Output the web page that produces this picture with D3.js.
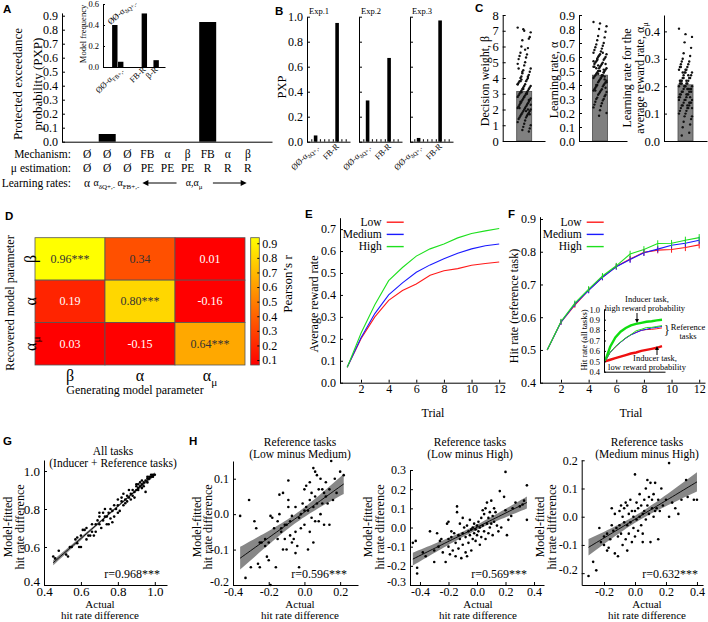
<!DOCTYPE html>
<html lang="en">
<head>
<meta charset="UTF-8">
<title>Model comparison and fits</title>
<script src="https://cdn.jsdelivr.net/npm/d3@7"></script>
<style>body { margin: 0; background: #fff; }</style>
</head>
<body>
<script>
// ---- data ----
var mechanism = ['Ø', 'Ø', 'Ø', 'FB', 'α', 'β', 'FB', 'α', 'β'];
var muEstimation = ['Ø', 'Ø', 'Ø', 'PE', 'PE', 'PE', 'R', 'R', 'R'];
var pxpAll = [0, 0.055, 0, 0, 0, 0, 0.855, 0, 0];
var modelFreq = [0, 0.40, 0.05, 0, 0, 0, 0.51, 0, 0.065];

var expNames = ['Exp.1', 'Exp.2', 'Exp.3'];
var pxpExp1 = [0, 0.05, 0, 0, 0, 0, 0.95, 0, 0];
var pxpExp2 = [0, 0.33, 0, 0, 0, 0, 0.67, 0, 0];
var pxpExp3 = [0, 0.03, 0, 0, 0, 0, 0.97, 0, 0];

var paramMeans = [3.15, 0.47, 0.205];
var betaFits = [7.2, 7.0, 6.9, 7.1, 6.6, 6.4, 6.5, 6.0, 5.9, 5.6, 5.5, 5.4, 5.3, 5.2, 5.0, 4.9, 4.8, 4.6, 4.5, 4.4,
  4.3, 4.2, 4.1, 4.0, 4.0, 3.9, 3.8, 3.8, 3.7, 3.6, 3.6, 3.5, 3.5, 3.4, 3.4, 3.3, 3.3, 3.2, 3.2, 3.1,
  3.1, 3.0, 3.0, 2.9, 2.9, 2.8, 2.8, 2.7, 2.7, 2.6, 2.6, 2.5, 2.5, 2.4, 2.4, 2.3, 2.3, 2.2, 2.2, 2.1,
  2.1, 2.0, 2.0, 1.9, 1.9, 1.8, 1.8, 1.7, 1.7, 1.6, 1.6, 1.5, 1.5, 1.4, 1.3, 1.2, 1.1, 1.0, 0.9, 0.8,
  0.7, 0.6, 3.9, 4.1, 2.5, 3.0, 2.1, 1.9, 4.6, 5.8, 3.6, 2.8, 2.3, 3.3, 1.7, 4.4, 2.6, 3.1, 2.0, 3.8];
var alphaFits = [0.85, 0.84, 0.82, 0.80, 0.78, 0.75, 0.74, 0.72, 0.70, 0.69, 0.68, 0.67, 0.66, 0.65, 0.64, 0.63,
  0.62, 0.62, 0.61, 0.60, 0.60, 0.59, 0.58, 0.58, 0.57, 0.56, 0.56, 0.55, 0.55, 0.54, 0.53, 0.53, 0.52,
  0.52, 0.51, 0.50, 0.50, 0.49, 0.49, 0.48, 0.47, 0.47, 0.46, 0.46, 0.45, 0.45, 0.44, 0.43, 0.43, 0.42,
  0.42, 0.41, 0.40, 0.40, 0.39, 0.39, 0.38, 0.37, 0.37, 0.36, 0.36, 0.35, 0.35, 0.34, 0.33, 0.33, 0.32,
  0.31, 0.30, 0.30, 0.29, 0.28, 0.27, 0.26, 0.25, 0.24, 0.22, 0.20, 0.18, 0.55, 0.48, 0.44, 0.58, 0.51,
  0.40, 0.63, 0.36, 0.47, 0.53, 0.45, 0.57, 0.50, 0.42, 0.61, 0.38, 0.54, 0.46, 0.59, 0.49, 0.52];
var alphaMuFits = [0.41, 0.39, 0.38, 0.36, 0.34, 0.32, 0.31, 0.30, 0.29, 0.29, 0.28, 0.28, 0.27, 0.27, 0.26,
  0.26, 0.25, 0.25, 0.25, 0.24, 0.24, 0.23, 0.23, 0.23, 0.22, 0.22, 0.22, 0.21, 0.21, 0.21, 0.20, 0.20,
  0.20, 0.20, 0.19, 0.19, 0.19, 0.18, 0.18, 0.18, 0.17, 0.17, 0.17, 0.16, 0.16, 0.16, 0.15, 0.15, 0.15,
  0.14, 0.14, 0.14, 0.13, 0.13, 0.13, 0.12, 0.12, 0.12, 0.11, 0.11, 0.10, 0.10, 0.09, 0.09, 0.08, 0.07,
  0.06, 0.05, 0.03, 0.02, 0.24, 0.21, 0.19, 0.17, 0.22, 0.15, 0.26, 0.12, 0.20, 0.18, 0.23, 0.16, 0.25,
  0.14, 0.21, 0.19, 0.27, 0.13, 0.22, 0.17];

var paramNames = ['β', 'α', 'αμ'];
var recoveryR = [[0.96, 0.34, 0.01], [0.19, 0.80, -0.16], [0.03, -0.15, 0.64]];
var recoveryStars = [['***', '', ''], ['', '***', ''], ['', '', '***']];
var colorbarTicks = [0.1, 0.2, 0.3, 0.4, 0.5, 0.6, 0.7, 0.8, 0.9];

var trials = [1, 2, 3, 4, 5, 6, 7, 8, 9, 10, 11, 12];
var rewardLow = [0.07, 0.20, 0.30, 0.375, 0.42, 0.45, 0.49, 0.51, 0.52, 0.535, 0.543, 0.55];
var rewardMed = [0.07, 0.205, 0.315, 0.40, 0.455, 0.503, 0.537, 0.565, 0.59, 0.61, 0.624, 0.632];
var rewardHigh = [0.07, 0.225, 0.355, 0.465, 0.525, 0.577, 0.61, 0.632, 0.66, 0.68, 0.692, 0.703];

var hitLow = [0.5, 0.585, 0.637, 0.683, 0.722, 0.755, 0.778, 0.798, 0.805, 0.807, 0.813, 0.821];
var hitMed = [0.5, 0.585, 0.64, 0.682, 0.722, 0.754, 0.776, 0.797, 0.808, 0.82, 0.826, 0.835];
var hitHigh = [0.5, 0.587, 0.643, 0.686, 0.726, 0.757, 0.793, 0.807, 0.825, 0.826, 0.835, 0.843];
var hitErr = [0, 0.008, 0.008, 0.009, 0.009, 0.009, 0.01, 0.01, 0.01, 0.01, 0.011, 0.011];
var inducerHigh = [0.5, 0.64, 0.73, 0.785, 0.82, 0.845, 0.86, 0.87, 0.88, 0.885, 0.893, 0.9];
var inducerLow = [0.5, 0.515, 0.53, 0.545, 0.56, 0.575, 0.585, 0.6, 0.61, 0.62, 0.63, 0.645];

var allTasks = [[0.45,0.55],[0.46,0.54],[0.48,0.58],[0.52,0.56],[0.53,0.55],[0.54,0.6],[0.55,0.6],[0.57,0.64],
  [0.58,0.62],[0.59,0.6],[0.6,0.6],[0.6,0.66],[0.61,0.69],[0.62,0.69],[0.63,0.7],[0.64,0.66],[0.65,0.66],
  [0.66,0.72],[0.66,0.68],[0.67,0.66],[0.68,0.72],[0.69,0.74],[0.7,0.72],[0.7,0.76],[0.71,0.7],[0.72,0.74],
  [0.72,0.78],[0.73,0.8],[0.74,0.76],[0.74,0.72],[0.75,0.78],[0.76,0.8],[0.76,0.75],[0.77,0.79],[0.78,0.82],
  [0.78,0.76],[0.79,0.8],[0.8,0.85],[0.8,0.82],[0.81,0.79],[0.82,0.86],[0.82,0.84],[0.83,0.88],[0.83,0.82],
  [0.84,0.85],[0.85,0.87],[0.85,0.84],[0.86,0.86],[0.86,0.9],[0.87,0.88],[0.88,0.87],[0.88,0.9],[0.89,0.89],
  [0.9,0.9],[0.9,0.92],[0.9,0.93],[0.91,0.91],[0.91,0.93],[0.92,0.92],[0.92,0.94],[0.93,0.93],[0.93,0.91],
  [0.94,0.94],[0.94,0.92],[0.95,0.95],[0.95,0.89],[0.96,0.96],[0.96,0.94],[0.97,0.96],[0.97,0.97],[0.98,0.97],
  [0.98,0.98],[0.99,0.98],[0.99,0.97],[1.0,0.98],[0.96,0.97],[0.93,0.95],[0.91,0.9],[0.89,0.86],[0.87,0.85],
  [0.84,0.83],[0.8,0.78],[0.77,0.73],[0.73,0.76],[0.68,0.68],[0.63,0.64],[0.58,0.65],[0.7,0.78],[0.75,0.72]];
var lowMinusMed = [[-0.36,-0.005],[-0.33,-0.18],[-0.31,0.04],[-0.3,-0.15],[-0.28,-0.02],[-0.27,-0.04],
  [-0.26,-0.14],[-0.25,-0.15],[-0.25,-0.08],[-0.24,-0.08],[-0.22,-0.07],[-0.21,-0.12],[-0.2,-0.13],[-0.2,-0.08],
  [-0.19,-0.2],[-0.19,-0.005],[-0.18,-0.01],[-0.17,-0.04],[-0.16,-0.15],[-0.15,-0.02],[-0.15,-0.07],[-0.14,0.055],
  [-0.14,0.0],[-0.13,-0.04],[-0.13,-0.05],[-0.12,0.06],[-0.11,-0.07],[-0.11,-0.03],[-0.1,-0.03],[-0.1,-0.1],
  [-0.09,0.095],[-0.09,0.04],[-0.09,0.02],[-0.08,-0.02],[-0.08,-0.06],[-0.07,-0.005],[-0.07,-0.08],[-0.06,-0.07],
  [-0.05,-0.05],[-0.05,0.02],[-0.04,-0.09],[-0.03,-0.01],[-0.03,-0.15],[-0.02,-0.04],[-0.02,0.0],[-0.01,0.03],
  [0.0,0.07],[0.0,-0.03],[0.01,0.08],[0.01,0.02],[0.02,-0.1],[0.02,0.01],[0.03,0.04],[0.03,-0.05],[0.04,0.06],
  [0.04,-0.01],[0.05,0.13],[0.05,0.02],[0.05,-0.08],[0.06,0.05],[0.06,-0.02],[0.07,0.11],[0.07,0.03],[0.08,0.07],
  [0.08,-0.02],[0.09,0.0],[0.09,0.1],[0.1,0.07],[0.1,0.03],[0.11,0.06],[0.11,-0.03],[0.12,0.05],[0.12,0.09],
  [0.13,0.03],[0.14,0.07],[0.14,-0.03],[0.15,0.15],[0.16,0.04],[0.17,0.1],[0.18,0.06],[0.2,0.12],[0.22,0.11],
  [-0.05,-0.11],[0.03,0.09],[-0.12,-0.1],[0.06,0.12],[-0.22,-0.09],[0.0,0.01]];
var lowMinusHigh = [[-0.45,-0.08],[-0.43,-0.07],[-0.42,-0.21],[-0.42,-0.24],[-0.38,-0.13],[-0.36,-0.15],
  [-0.33,-0.02],[-0.3,-0.12],[-0.3,-0.18],[-0.28,-0.03],[-0.27,-0.1],[-0.25,-0.06],[-0.24,-0.13],[-0.22,-0.18],
  [-0.21,0.02],[-0.2,0.03],[-0.2,-0.06],[-0.2,-0.1],[-0.19,-0.14],[-0.18,-0.02],[-0.18,-0.05],[-0.17,-0.12],
  [-0.16,-0.03],[-0.15,-0.08],[-0.15,-0.15],[-0.14,0.11],[-0.14,0.08],[-0.13,-0.04],[-0.13,-0.11],[-0.12,0.02],
  [-0.12,-0.06],[-0.11,-0.16],[-0.1,-0.03],[-0.1,-0.09],[-0.1,0.05],[-0.09,0.0],[-0.08,-0.05],[-0.08,-0.13],
  [-0.07,0.01],[-0.06,-0.02],[-0.06,-0.08],[-0.05,0.04],[-0.05,-0.04],[-0.04,-0.01],[-0.04,-0.12],[-0.03,0.0],
  [-0.03,-0.06],[-0.02,0.02],[-0.02,-0.03],[-0.01,-0.01],[-0.01,-0.07],[0.0,0.01],[0.0,-0.04],[0.01,0.03],
  [0.01,-0.02],[0.02,0.0],[0.02,-0.09],[0.03,0.05],[0.03,-0.05],[0.04,0.01],[0.05,0.07],[0.05,-0.02],[0.06,0.1],
  [0.06,-0.06],[0.07,0.02],[0.07,0.13],[0.08,0.05],[0.08,-0.03],[0.09,0.0],[0.09,0.08],[0.1,0.02],[0.1,0.14],
  [0.11,0.06],[0.11,-0.04],[0.12,0.03],[0.13,0.08],[0.14,0.01],[0.15,-0.02],[0.16,0.19],[0.17,0.0],[0.19,0.16],
  [0.2,0.29],[0.2,0.09],[0.21,-0.04],[0.22,0.04],[0.24,0.06],[0.25,0.1],[0.27,0.13],[0.3,0.11],[0.33,0.14],
  [0.35,0.22],[0.35,0.04],[0.32,0.12],[-0.26,-0.07],[0.04,0.09],[-0.07,-0.15],[0.12,0.1]];
var medMinusHigh = [[-0.3,-0.21],[-0.27,-0.16],[-0.25,-0.19],[-0.23,-0.04],[-0.22,-0.09],[-0.2,-0.1],[-0.2,-0.07],
  [-0.18,-0.06],[-0.17,-0.11],[-0.16,-0.08],[-0.15,0.03],[-0.15,-0.03],[-0.14,-0.05],[-0.13,0.01],[-0.13,-0.13],
  [-0.12,-0.04],[-0.11,-0.14],[-0.11,-0.07],[-0.1,0.02],[-0.1,-0.03],[-0.09,-0.06],[-0.08,0.0],[-0.08,-0.1],
  [-0.07,-0.02],[-0.07,0.03],[-0.06,-0.08],[-0.05,0.04],[-0.05,-0.03],[-0.05,-0.12],[-0.04,0.01],[-0.04,-0.06],
  [-0.03,0.06],[-0.03,-0.02],[-0.02,-0.09],[-0.02,0.02],[-0.01,-0.04],[-0.01,0.0],[0.0,0.15],[0.0,0.02],
  [0.0,-0.07],[0.01,-0.01],[0.01,0.05],[0.02,0.03],[0.02,-0.05],[0.03,0.0],[0.03,0.08],[0.04,-0.03],[0.04,0.04],
  [0.05,0.01],[0.05,-0.09],[0.06,0.06],[0.06,0.02],[0.07,-0.01],[0.07,0.1],[0.08,0.04],[0.08,0.13],[0.09,0.01],
  [0.09,0.07],[0.1,0.12],[0.1,-0.09],[0.11,0.03],[0.11,0.06],[0.12,0.0],[0.12,0.08],[0.13,0.12],[0.14,0.03],
  [0.15,-0.08],[0.15,0.06],[0.16,0.02],[0.17,0.1],[0.18,0.04],[0.2,0.06],[0.22,0.19],[0.22,0.0],[0.24,0.05],
  [0.26,0.03],[0.28,0.01],[0.3,0.06],[0.33,0.13],[0.34,0.07],[0.38,0.06],[0.4,0.06],[-0.06,0.05],[0.05,-0.06],
  [-0.18,-0.12],[0.13,0.02],[-0.09,0.04]];
var corrLabels = ['r=0.968***', 'r=0.596***', 'r=0.569***', 'r=0.632***'];

// ---- font: pick an installed Times-like serif, shrink sizes if it runs wider than Times ----
var ctx = document.createElement('canvas').getContext('2d');
function installed(name) {
  var s = 'Protected exceedance 0.123';
  ctx.font = '40px monospace';
  var w0 = ctx.measureText(s).width;
  ctx.font = '40px "' + name + '", monospace';
  return ctx.measureText(s).width !== w0;
}
var serifName = ['Liberation Serif', 'Times New Roman', 'Tinos', 'Nimbus Roman', 'Noto Serif', 'DejaVu Serif']
  .filter(installed)[0];
var SERIF = serifName ? '"' + serifName + '", serif' : 'serif';
ctx.font = '100px ' + SERIF;
var FS = Math.min(1, 863.5 / ctx.measureText('Protected exceedance').width);
d3.select('head').append('style').text(
  'svg text { font-family: ' + SERIF + '; }' +
  'svg text.letter { font-family: "Liberation Sans", Arial, sans-serif; font-weight: bold; }');

// ---- setup ----
var svg = d3.select('body').append('svg').attr('width', 708).attr('height', 622);
svg.append('rect').attr('width', 708).attr('height', 622).attr('fill', '#fff');

function styleAxis(g, size) {
  g.attr('font-size', size * FS);
  g.select('.domain').attr('stroke', '#000');
  g.selectAll('.tick line').attr('stroke', '#000');
  g.selectAll('.tick text').attr('fill', '#000');
  return g;
}
function leftAxis(scale, x, ticks, fmt, size) {
  var g = svg.append('g').attr('transform', 'translate(' + x + ',0)')
    .call(d3.axisLeft(scale).tickValues(ticks).tickFormat(fmt).tickSizeInner(-3).tickSizeOuter(0).tickPadding(4));
  return styleAxis(g, size);
}
function bottomAxis(scale, y, ticks, fmt, size) {
  var g = svg.append('g').attr('transform', 'translate(0,' + y + ')')
    .call(d3.axisBottom(scale).tickValues(ticks).tickFormat(fmt).tickSizeInner(-3).tickSizeOuter(0).tickPadding(2));
  return styleAxis(g, size);
}
function fix1(d) { return d.toFixed(1); }
function txt(x, y, s, size, anchor) {
  return svg.append('text').attr('x', x).attr('y', y).attr('font-size', size * FS)
    .attr('text-anchor', anchor || 'middle').text(s);
}
function vtxt(x, y, s, size) {
  return svg.append('text').attr('transform', 'translate(' + x + ',' + y + ') rotate(-90)')
    .attr('font-size', size * FS).attr('text-anchor', 'middle').attr('dy', '0.35em').text(s);
}
function rotText(x, y, angle, size, anchor) {
  return svg.append('text').attr('transform', 'translate(' + x + ',' + y + ') rotate(' + angle + ')')
    .attr('font-size', size * FS).attr('text-anchor', anchor || 'middle');
}
function rich(t, parts, size) {
  var s = size * FS, shift = 0;
  parts.forEach(function(p) {
    var ts = t.append('tspan').text(p[0]);
    if (p[1]) {
      ts.attr('font-size', s * 0.7).attr('dy', s * 0.3 - shift);
      shift = s * 0.3;
    } else {
      ts.attr('font-size', s);
      if (shift) ts.attr('dy', -shift);
      shift = 0;
    }
  });
  return t;
}
function letter(x, y, s) {
  svg.append('text').attr('class', 'letter').attr('x', x).attr('y', y).attr('font-size', 11.5).text(s);
}

// ---- A ----
letter(3, 13, 'A');
var xA = d3.scaleLinear().domain([-0.25, 10.2]).range([62, 272]);
var yA = d3.scaleLinear().domain([0, 0.92]).range([141.7, 12.9]);
svg.selectAll('.barA').data(pxpAll).enter().append('rect')
  .attr('x', function(d, i) { return xA(i + 1) - 8.5; })
  .attr('y', function(d) { return yA(d); })
  .attr('width', 17).attr('height', function(d) { return yA(0) - yA(d); })
  .attr('fill', '#000');
leftAxis(yA, xA(-0.25), d3.range(0, 10).map(function(i) { return i / 10; }), fix1, 12);
bottomAxis(xA, yA(0), [], '', 12);
vtxt(17, 84, 'Protected exceedance', 13);
vtxt(37, 84, 'probability (PXP)', 13);

txt(71, 158, 'Mechanism:', 11.5, 'end');
txt(71, 172, 'μ estimation:', 11.5, 'end');
txt(71, 187, 'Learning rates:', 11.5, 'end');
mechanism.forEach(function(m, i) { txt(xA(i + 1), 158, m, 11.5); });
muEstimation.forEach(function(m, i) { txt(xA(i + 1), 172, m, 11.5); });
txt(xA(1), 187, 'α', 11.5);
rich(txt(xA(1.85), 186, '', 10), [['α', 0], ['δQ+,-', 1]], 10);
rich(txt(xA(3.05), 186, '', 10), [['α', 0], ['FB+,-', 1]], 10);
rich(txt(xA(6.32), 186, '', 10), [['α,α', 0], ['μ', 1]], 10);
[[xA(5.45), xA(3.75)], [xA(7.26), xA(8.94)]].forEach(function(a) {
  var dir = a[1] > a[0] ? 1 : -1;
  svg.append('line').attr('x1', a[0]).attr('x2', a[1] - dir * 4).attr('y1', 183).attr('y2', 183)
    .attr('stroke', '#000').attr('stroke-width', 1);
  svg.append('path').attr('d', 'M' + a[1] + ',183 l' + (-dir * 6) + ',-3 v6 z').attr('fill', '#000');
});

// A inset
var xI = d3.scaleLinear().domain([0, 10.5]).range([103, 165]);
var yI = d3.scaleLinear().domain([0, 0.6]).range([67, 4]);
svg.selectAll('.barI').data(modelFreq).enter().append('rect')
  .attr('x', function(d, i) { return xI(i + 1) - 2.7; })
  .attr('y', function(d) { return yI(d); })
  .attr('width', 5.4).attr('height', function(d) { return yI(0) - yI(d); })
  .attr('fill', '#000');
leftAxis(yI, xI(0), [0, 0.2, 0.4, 0.6], fix1, 8.5).call(function(g) { g.selectAll('.tick line').attr('x2', 2); });
bottomAxis(xI, yI(0), [], '', 8);
vtxt(83, 34, 'Model frequency', 8.5);
rich(rotText(xI(2) - 4, 25, -42, 8.5, 'start'), [['ØØ-α', 0], ['δQ+,-', 1]], 8.5);
rich(rotText(xI(3) + 2, 70, -45, 8.5, 'end'), [['ØØ-α', 0], ['FB+,-', 1]], 8.5);
rotText(xI(7) + 2, 70, -45, 8.5, 'end').text('FB-R');
rotText(xI(9) + 2, 70, -45, 8.5, 'end').text('β-R');

// ---- B ----
letter(275, 15, 'B');
var yB = d3.scaleLinear().domain([0, 1]).range([141.7, 16.7]);
var expX0 = [307, 359, 410];
[pxpExp1, pxpExp2, pxpExp3].forEach(function(vals, e) {
  var xB = d3.scaleLinear().domain([0, 10]).range([expX0[e], expX0[e] + 43]);
  svg.selectAll('.barB' + e).data(vals).enter().append('rect')
    .attr('x', function(d, i) { return xB(i + 1) - 1.8; })
    .attr('y', function(d) { return yB(d); })
    .attr('width', 3.6).attr('height', function(d) { return yB(0) - yB(d); })
    .attr('fill', '#000');
  leftAxis(yB, xB(0), [0, 0.2, 0.4, 0.6, 0.8, 1], e === 0 ? fix1 : '', 12);
  bottomAxis(xB, yB(0), d3.range(1, 10), '', 8).call(function(g) { g.selectAll('.tick line').attr('y2', -2.5); });
  txt(xB(0) + 2, 14, expNames[e], 8.5, 'start');
  rich(rotText(xB(2) + 2.5, 147, -45, 8.5, 'end'), [['ØØ-α', 0], ['δQ+,-', 1]], 8.5);
  rotText(xB(7) + 2.5, 147, -45, 8.5, 'end').text('FB-R');
});
vtxt(282, 87, 'PXP', 12.5);

// ---- C ----
letter(475, 12, 'C');
var cPanels = [
  { vals: betaFits, x0: 502.7, x1: 545, bar: 524.2, dom: [0, 8], top: 15, ticks: d3.range(0, 9), fmt: d3.format('d') },
  { vals: alphaFits, x0: 579, x1: 627, bar: 600, dom: [0, 0.9], top: 15, ticks: d3.range(0, 10).map(function(i) { return i / 10; }), fmt: fix1 },
  { vals: alphaMuFits, x0: 664, x1: 707, bar: 685.5, dom: [0, 0.4], top: 31.4, ticks: [0, 0.1, 0.2, 0.3, 0.4], fmt: fix1 }
];
cPanels.forEach(function(p, k) {
  var y = d3.scaleLinear().domain(p.dom).range([141, p.top]);
  var yFull = d3.scaleLinear().domain([0, y.invert(15)]).range([141, 15]);
  svg.append('rect').attr('x', p.bar - 7.5).attr('y', y(paramMeans[k])).attr('width', 15)
    .attr('height', y(0) - y(paramMeans[k])).attr('fill', '#808080').attr('stroke', '#4a4a4a').attr('stroke-width', 0.8);
  svg.selectAll('.dotC' + k).data(p.vals).enter().append('circle')
    .attr('cx', function(d, i) { return p.bar + (((i * 7) % 15) - 7) / 7 * 6.5; })
    .attr('cy', function(d) { return y(d); })
    .attr('r', 1.2).attr('fill', '#111');
  leftAxis(yFull, p.x0, p.ticks, p.fmt, 12.5);
  var xc = d3.scaleLinear().domain([0, 1]).range([p.x0, p.x1]);
  bottomAxis(xc, 141, [], '', 12);
});
vtxt(485, 81, 'Decision weight, β', 12);
vtxt(554, 80, 'Learning rate, α', 12);
vtxt(627, 78, 'Learning rate for the', 12);
rich(rotText(640, 78, -90, 12).attr('dy', '0.35em'), [['average reward rate, α', 0], ['μ', 1]], 12);

// ---- D ----
letter(5, 220, 'D');
var xD = d3.scaleBand().domain(paramNames).range([35, 245]);
var yD = d3.scaleBand().domain(paramNames).range([237.7, 365]);
var cbDom = [0.066, 0.938];
var colD = d3.scaleLinear().domain(cbDom).range(['#ff0000', '#ffff00']).clamp(true);
recoveryR.forEach(function(row, i) {
  row.forEach(function(v, j) {
    svg.append('rect').attr('x', xD(paramNames[j])).attr('y', yD(paramNames[i]))
      .attr('width', xD.bandwidth()).attr('height', yD.bandwidth())
      .attr('fill', colD(v)).attr('stroke', '#555').attr('stroke-width', 0.8);
    txt(xD(paramNames[j]) + xD.bandwidth() / 2, yD(paramNames[i]) + yD.bandwidth() / 2 + 4,
      v.toFixed(2) + recoveryStars[i][j], 12).attr('fill', v > 0.3 ? '#333' : '#fff');
  });
});
function paramLabel(t, name, size) {
  if (name === 'αμ') rich(t, [['α', 0], ['μ', 1]], size); else t.text(name);
}
paramNames.forEach(function(n) {
  paramLabel(txt(xD(n) + xD.bandwidth() / 2, 381, '', 16), n, 16);
  paramLabel(rotText(30, yD(n) + yD.bandwidth() / 2, -90, 16).attr('dy', '0.35em'), n, 16);
});
vtxt(10, 303, 'Recovered model parameter', 12);
txt(135, 394, 'Generating model parameter', 12);
var grad = svg.append('defs').append('linearGradient').attr('id', 'cb')
  .attr('x1', 0).attr('y1', 1).attr('x2', 0).attr('y2', 0);
grad.append('stop').attr('offset', '0%').attr('stop-color', colD(cbDom[0]));
grad.append('stop').attr('offset', '100%').attr('stop-color', colD(cbDom[1]));
var yCb = d3.scaleLinear().domain(cbDom).range([365, 237.7]);
svg.append('rect').attr('x', 250.7).attr('y', 237.7).attr('width', 8.6).attr('height', 127.3)
  .attr('fill', 'url(#cb)').attr('stroke', '#555').attr('stroke-width', 0.8);
svg.append('g').attr('transform', 'translate(259.3,0)')
  .call(d3.axisRight(yCb).tickValues(colorbarTicks).tickFormat(fix1).tickSizeInner(-2).tickSizeOuter(0).tickPadding(3))
  .call(function(g) { styleAxis(g, 12); g.select('.domain').remove(); });
vtxt(287, 284, 'Pearson\u2019s r', 13);

// ---- E and F line panels ----
var lineColors = ['#ff1a1a', '#1a1aff', '#1ee01e'];
var lineNames = ['Low', 'Medium', 'High'];
function legend(xEnd) {
  lineNames.forEach(function(n, i) {
    var yy = 222.2 + i * 12.2;
    txt(xEnd, yy + 3.8, n, 11.5, 'end');
    svg.append('line').attr('x1', xEnd + 5).attr('x2', xEnd + 22).attr('y1', yy).attr('y2', yy)
      .attr('stroke', lineColors[i]).attr('stroke-width', 1.4);
  });
}

letter(305, 218, 'E');
var xE = d3.scaleLinear().domain([0.48, 12.42]).range([340, 505]);
var yE = d3.scaleLinear().domain([0, 0.752]).range([382.7, 217.7]);
var lineE = d3.line().x(function(d, i) { return xE(trials[i]); }).y(function(d) { return yE(d); });
[rewardLow, rewardMed, rewardHigh].forEach(function(s, k) {
  svg.append('path').attr('d', lineE(s)).attr('fill', 'none').attr('stroke', lineColors[k]).attr('stroke-width', 1.1);
});
leftAxis(yE, 340, d3.range(0, 8).map(function(i) { return i / 10; }), fix1, 12);
bottomAxis(xE, 382.7, [2, 4, 6, 8, 10, 12], d3.format('d'), 12);
vtxt(314, 304, 'Average reward rate', 12);
txt(433, 417, 'Trial', 12);
legend(381.7);

letter(508, 218, 'F');
var xF = d3.scaleLinear().domain([0.48, 12.42]).range([540, 705]);
var yF = d3.scaleLinear().domain([0.4, 0.907]).range([382.7, 216.7]);
var lineF = d3.line().x(function(d, i) { return xF(trials[i]); }).y(function(d) { return yF(d); });
[hitLow, hitMed, hitHigh].forEach(function(s, k) {
  svg.append('path').attr('d', lineF(s)).attr('fill', 'none').attr('stroke', lineColors[k]).attr('stroke-width', 1.1);
});
[hitLow, hitMed, hitHigh].forEach(function(s, k) {
  s.forEach(function(v, i) {
    if (!hitErr[i]) return;
    svg.append('line').attr('x1', xF(trials[i])).attr('x2', xF(trials[i]))
      .attr('y1', yF(v - hitErr[i])).attr('y2', yF(v + hitErr[i]))
      .attr('stroke', lineColors[k]).attr('stroke-width', 1);
  });
});
leftAxis(yF, 540, [0.4, 0.5, 0.6, 0.7, 0.8, 0.9], fix1, 12);
bottomAxis(xF, 382.7, [2, 4, 6, 8, 10, 12], d3.format('d'), 12);
vtxt(514, 306, 'Hit rate (reference task)', 12);
txt(631, 417, 'Trial', 12);
legend(581.7);

// F inset
var xFi = d3.scaleLinear().domain([1, 12]).range([605, 662]);
var yFi = d3.scaleLinear().domain([0.4, 1.0]).range([371.7, 309.3]);
var lineFi = d3.line().x(function(d, i) { return xFi(trials[i]); }).y(function(d) { return yFi(d); });
svg.append('path').attr('d', lineFi(inducerHigh)).attr('fill', 'none').attr('stroke', '#10dd10').attr('stroke-width', 2.4);
svg.append('path').attr('d', lineFi(inducerLow)).attr('fill', 'none').attr('stroke', '#ee1010').attr('stroke-width', 2.4);
[hitLow, hitMed, hitHigh].forEach(function(s, k) {
  svg.append('path').attr('d', lineFi(s)).attr('fill', 'none').attr('stroke', lineColors[k]).attr('stroke-width', 1);
});
var xFiAxis = d3.scaleLinear().domain([0, 1]).range([604, 665]);
leftAxis(yFi, 604, [0.4, 0.5, 0.6, 0.7, 0.8, 0.9, 1.0], fix1, 8.5).call(function(g) { g.selectAll('.tick line').attr('x2', 2); });
bottomAxis(xFiAxis, 371.7, [], '', 8);
vtxt(584, 340, 'Hit rate (all tasks)', 8.5);
txt(647, 302, 'Inducer task,', 8.5);
txt(645, 311, 'high reward probability', 8.5);
svg.append('line').attr('x1', 637).attr('x2', 637).attr('y1', 313).attr('y2', 319).attr('stroke', '#000');
svg.append('path').attr('d', 'M637,323 l-2,-4 h4 z').attr('fill', '#000');
txt(667, 334, '}', 12);
txt(688, 330, 'Reference', 8.5);
txt(688, 339, 'tasks', 8.5);
svg.append('line').attr('x1', 657).attr('x2', 657).attr('y1', 355).attr('y2', 350).attr('stroke', '#000');
svg.append('path').attr('d', 'M657,346 l-2,4 h4 z').attr('fill', '#000');
txt(655, 361, 'Inducer task,', 8.5);
txt(647, 370, 'low reward probability', 8.5);

// ---- G and H scatter panels ----
function fitBand(pts) {
  var n = pts.length;
  var mx = d3.mean(pts, function(d) { return d[0]; }), my = d3.mean(pts, function(d) { return d[1]; });
  var sxx = d3.sum(pts, function(d) { return (d[0] - mx) * (d[0] - mx); });
  var sxy = d3.sum(pts, function(d) { return (d[0] - mx) * (d[1] - my); });
  var b = sxy / sxx, a = my - b * mx;
  var s = Math.sqrt(d3.sum(pts, function(d) { var r = d[1] - a - b * d[0]; return r * r; }) / (n - 2));
  var ext = d3.extent(pts, function(d) { return d[0]; });
  return d3.range(0, 41).map(function(i) {
    var x = ext[0] + (ext[1] - ext[0]) * i / 40;
    var yh = a + b * x, se = 1.99 * s * Math.sqrt(1 / n + (x - mx) * (x - mx) / sxx);
    return { x: x, y: yh, lo: yh - se, hi: yh + se };
  });
}
function scatterPanel(c) {
  var band = fitBand(c.pts);
  svg.append('path').attr('d', d3.area().x(function(d) { return c.x(d.x); })
    .y0(function(d) { return c.y(d.lo); }).y1(function(d) { return c.y(d.hi); })(band))
    .attr('fill', '#7a7a7a').attr('opacity', 0.9);
  svg.selectAll(null).data(c.pts).enter().append('circle')
    .attr('cx', function(d) { return c.x(d[0]); }).attr('cy', function(d) { return c.y(d[1]); })
    .attr('r', 1.3).attr('fill', '#000');
  svg.append('path').attr('d', d3.line().x(function(d) { return c.x(d.x); }).y(function(d) { return c.y(d.y); })(band))
    .attr('fill', 'none').attr('stroke', '#000').attr('stroke-width', 0.9);
  // lowest y label sits a little higher so it clears the first x label at the corner
  leftAxis(c.y, c.x.range()[0], c.yTicks, fix1, c.tick)
    .selectAll('.tick text').filter(function(d) { return d === c.yTicks[0]; }).attr('dy', '0.05em');
  bottomAxis(c.x, c.y.range()[0], c.xTicks, fix1, c.tick);
  txt(c.tx, c.t1y, c.title[0], 11.5);
  txt(c.tx, c.t1y + 12, c.title[1], 11.5);
  txt(c.rx, 578, c.r, 12, 'end');
  txt(c.ax, 608, 'Actual', 11);
  txt(c.ax, 619.3, 'hit rate difference', 11);
  if (c.yl1 != null) vtxt(c.yl1, 527, 'Model-fitted', 12);
  vtxt(c.yl2, 527, 'hit rate difference', 12);
}

letter(3, 445, 'G');
scatterPanel({
  pts: allTasks,
  x: d3.scaleLinear().domain([0.4, 1.066]).range([44, 167]),
  y: d3.scaleLinear().domain([0.4, 1.058]).range([585, 460]),
  xTicks: [0.4, 0.6, 0.8, 1.0], yTicks: [0.4, 0.6, 0.8, 1.0], tick: 13,
  title: ['All tasks', '(Inducer + Reference tasks)'], tx: 113, t1y: 455,
  r: corrLabels[0], rx: 160, ax: 100, yl1: 8, yl2: 20
});
letter(189, 445, 'H');
scatterPanel({
  pts: lowMinusMed,
  x: d3.scaleLinear().domain([-0.4, 0.3]).range([233, 358]),
  y: d3.scaleLinear().domain([-0.2, 0.15]).range([585, 461]),
  xTicks: [-0.4, -0.2, 0, 0.2], yTicks: [-0.2, -0.1, 0, 0.1], tick: 12,
  title: ['Reference tasks', '(Low minus Medium)'], tx: 300, t1y: 446,
  r: corrLabels[1], rx: 347, ax: 300, yl1: 197, yl2: 208
});
scatterPanel({
  pts: lowMinusHigh,
  x: d3.scaleLinear().domain([-0.47, 0.47]).range([410, 544]),
  y: d3.scaleLinear().domain([-0.3, 0.3]).range([585, 470]),
  xTicks: [-0.4, -0.2, 0, 0.2, 0.4], yTicks: [-0.3, -0.2, -0.1, 0, 0.1, 0.2, 0.3], tick: 12,
  title: ['Reference tasks', '(Low minus High)'], tx: 470, t1y: 446,
  r: corrLabels[2], rx: 527, ax: 478, yl1: 368, yl2: 380
});
scatterPanel({
  pts: medMinusHigh,
  x: d3.scaleLinear().domain([-0.344, 0.439]).range([581.7, 703]),
  y: d3.scaleLinear().domain([-0.242, 0.201]).range([585, 460]),
  xTicks: [-0.2, 0, 0.2, 0.4], yTicks: [-0.2, -0.1, 0, 0.1, 0.2], tick: 12,
  title: ['Reference tasks', '(Medium minus High)'], tx: 647, t1y: 446,
  r: corrLabels[3], rx: 698, ax: 647, yl1: 540, yl2: 552
});
</script>
</body>
</html>
